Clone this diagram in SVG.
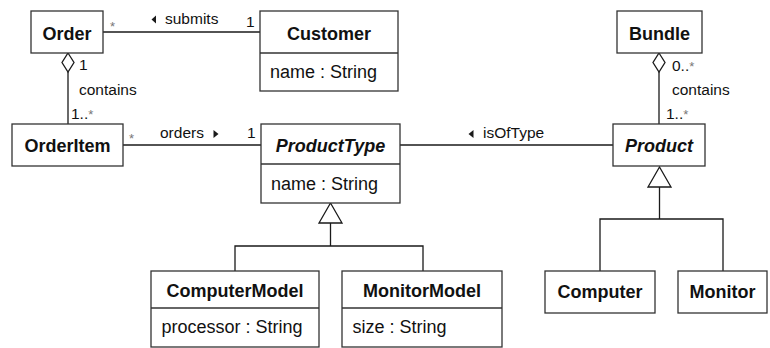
<svg xmlns="http://www.w3.org/2000/svg" width="770" height="348" viewBox="0 0 770 348">
  <style>
    .box { fill: #fff; stroke: #333; stroke-width: 1.3; }
    .ln { fill: none; stroke: #1a1a1a; stroke-width: 1.3; }
    .hollow { fill: #fff; stroke: #1a1a1a; stroke-width: 1.3; }
    .dir { fill: #1a1a1a; }
    .title { font-family: "Liberation Sans", Arial, sans-serif; font-size: 18px; font-weight: bold; fill: #111; text-anchor: middle; }
    .abstract { font-style: italic; }
    .attr { font-family: "Liberation Sans", Arial, sans-serif; font-size: 18px; fill: #111; }
    .lbl { font-family: "Liberation Sans", Arial, sans-serif; font-size: 15.5px; fill: #111; }
    .star { font-size: 13px; fill: #777; }
  </style>

  <!-- associations, aggregations and generalizations -->
  <g id="connectors">
    <!-- Order * submits 1 Customer -->
    <line class="ln" x1="103" y1="32" x2="260" y2="32"/>
    <polygon class="dir" points="151.5,19.5 156,15.5 156,23.5"/>
    <text class="lbl" x="165" y="24">submits</text>
    <text class="lbl star" x="110" y="31">*</text>
    <text class="lbl" x="246" y="27">1</text>

    <!-- Order 1 contains 1..* OrderItem -->
    <line class="ln" x1="68" y1="72" x2="68" y2="124"/>
    <polygon class="hollow" points="68,53 74,62.5 68,72 62,62.5"/>
    <text class="lbl" x="79" y="70">1</text>
    <text class="lbl" x="79" y="95">contains</text>
    <text class="lbl" x="71" y="118.5">1..<tspan class="star">*</tspan></text>

    <!-- OrderItem * orders 1 ProductType -->
    <line class="ln" x1="123" y1="145" x2="261" y2="145"/>
    <text class="lbl star" x="129" y="143">*</text>
    <text class="lbl" x="160" y="138">orders</text>
    <polygon class="dir" points="218.5,134 213.5,130 213.5,138"/>
    <text class="lbl" x="247" y="137.5">1</text>

    <!-- ProductType isOfType Product -->
    <line class="ln" x1="400" y1="145" x2="613" y2="145"/>
    <polygon class="dir" points="468.5,134 473.5,130 473.5,138"/>
    <text class="lbl" x="483" y="138">isOfType</text>

    <!-- Bundle 0..* contains 1..* Product -->
    <line class="ln" x1="659" y1="72" x2="659" y2="124"/>
    <polygon class="hollow" points="659,53 665,62.5 659,72 653,62.5"/>
    <text class="lbl" x="672" y="70.5">0..<tspan class="star">*</tspan></text>
    <text class="lbl" x="672" y="95">contains</text>
    <text class="lbl" x="666" y="118.5">1..<tspan class="star">*</tspan></text>

    <!-- generalization: ComputerModel, MonitorModel -> ProductType -->
    <polyline class="ln" points="235,271 235,246 423,246 423,271"/>
    <line class="ln" x1="330.5" y1="223" x2="330.5" y2="246"/>
    <polygon class="hollow" points="330.5,203 342,223 319,223"/>

    <!-- generalization: Computer, Monitor -> Product -->
    <polyline class="ln" points="600,271 600,219 723,219 723,271"/>
    <line class="ln" x1="659.5" y1="187" x2="659.5" y2="219"/>
    <polygon class="hollow" points="659.5,167 671,187 648,187"/>
  </g>

  <g id="order">
    <rect class="box" x="31" y="11" width="72" height="42"/>
    <text class="title" x="67" y="39.5">Order</text>
  </g>

  <g id="customer">
    <rect class="box" x="260" y="11" width="138" height="80"/>
    <line class="box" x1="260" y1="53" x2="398" y2="53"/>
    <text class="title" x="329" y="39.5">Customer</text>
    <text class="attr" x="270" y="78">name : String</text>
  </g>

  <g id="orderitem">
    <rect class="box" x="12" y="124" width="111" height="42"/>
    <text class="title" x="67.5" y="151.5">OrderItem</text>
  </g>

  <g id="producttype">
    <rect class="box" x="261" y="124" width="139" height="79"/>
    <line class="box" x1="261" y1="164" x2="400" y2="164"/>
    <text class="title abstract" x="330.5" y="151.5">ProductType</text>
    <text class="attr" x="271" y="190">name : String</text>
  </g>

  <g id="bundle">
    <rect class="box" x="617" y="11" width="85" height="42"/>
    <text class="title" x="659.5" y="39.5">Bundle</text>
  </g>

  <g id="product">
    <rect class="box" x="613" y="124" width="92" height="42"/>
    <text class="title abstract" x="659" y="151.5">Product</text>
  </g>

  <g id="computermodel">
    <rect class="box" x="151" y="271" width="168" height="76"/>
    <line class="box" x1="151" y1="308" x2="319" y2="308"/>
    <text class="title" x="235" y="297">ComputerModel</text>
    <text class="attr" x="161.5" y="333">processor : String</text>
  </g>

  <g id="monitormodel">
    <rect class="box" x="342" y="271" width="160" height="76"/>
    <line class="box" x1="342" y1="308" x2="502" y2="308"/>
    <text class="title" x="422" y="297">MonitorModel</text>
    <text class="attr" x="352.5" y="333">size : String</text>
  </g>

  <g id="computer">
    <rect class="box" x="545" y="271" width="110" height="42"/>
    <text class="title" x="600" y="298">Computer</text>
  </g>

  <g id="monitor">
    <rect class="box" x="678" y="271" width="89" height="42"/>
    <text class="title" x="722.5" y="298">Monitor</text>
  </g>
</svg>
